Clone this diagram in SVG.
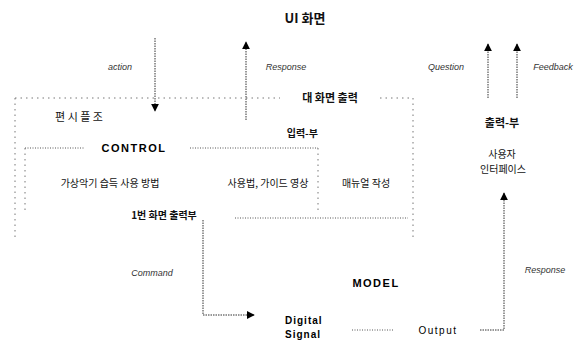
<svg xmlns="http://www.w3.org/2000/svg" width="587" height="350" viewBox="0 0 587 350">
  <style>
    .t { font-family: "Liberation Sans", "Noto Sans CJK KR", sans-serif; fill: #000; }
    .ko { font-family: "Noto Sans CJK KR", "Liberation Sans", sans-serif; fill: #111; }
    .b { font-weight: bold; }
    .lbl { font-family: "Liberation Sans", sans-serif; font-style: italic; font-size: 9px; fill: #333; }
    .box { fill: none; stroke: #777; stroke-width: 1; stroke-dasharray: 1.5 4; }
    .sec { fill: none; stroke: #555; stroke-width: 1; stroke-dasharray: 1 1.5; }
    .edge { fill: none; stroke: #333; stroke-width: 1; stroke-dasharray: 1.5 1; }
  </style>
  <defs>
    <marker id="ah" viewBox="0 0 10 10" refX="9" refY="5" markerWidth="8" markerHeight="8" orient="auto-start-reverse" markerUnits="userSpaceOnUse">
      <path d="M0,0 L10,5 L0,10 Z" fill="#000"/>
    </marker>
  </defs>
  <rect width="587" height="350" fill="#fff"/>

  <g id="user">
    <text class="ko b" x="305" y="23" font-size="13" text-anchor="middle">UI 화면</text>
  </g>

  <g id="view-box">
    <path class="box" d="M15,98 H280 M380,98 H413 M15,98 V237 M413,98 V237"/>
    <text class="ko b" x="330" y="102" font-size="11" text-anchor="middle">대 화면 출력</text>
    <text class="ko" x="79" y="121" font-size="11" text-anchor="middle">편 시 플 조</text>
  </g>

  <g id="control">
    <path class="sec" d="M25,148 H84 M190,148 H318"/>
    <path class="box" d="M25,148 V212 M318,148 V212"/>
    <text class="t b" x="134" y="152" font-size="11" text-anchor="middle" letter-spacing="1.5">CONTROL</text>
    <text class="ko b" x="318" y="137" font-size="10" text-anchor="end">입력-부</text>
    <text class="ko" x="110" y="187" font-size="10" text-anchor="middle">가상악기 습득 사용 방법</text>
    <text class="ko" x="268" y="187" font-size="10" text-anchor="middle">사용법, 가이드 영상</text>
    <text class="ko" x="366" y="187" font-size="10" text-anchor="middle">매뉴얼 작성</text>
  </g>

  <g id="output-section">
    <text class="ko b" x="164" y="219" font-size="10" text-anchor="middle">1번 화면 출력부</text>
    <path class="sec" d="M235,218 H408"/>
  </g>

  <g id="interface">
    <text class="ko b" x="502" y="127" font-size="11" text-anchor="middle">출력-부</text>
    <text class="ko" x="502" y="158" font-size="10" text-anchor="middle">사용자</text>
    <text class="ko" x="503" y="173" font-size="10" text-anchor="middle">인터페이스</text>
  </g>

  <g id="model">
    <text class="t b" x="376" y="287" font-size="11" text-anchor="middle" letter-spacing="1.5">MODEL</text>
  </g>

  <g id="digital-signal">
    <text class="t b" x="285" y="324" font-size="10" letter-spacing="1">Digital</text>
    <text class="t b" x="285" y="338" font-size="10" letter-spacing="1">Signal</text>
  </g>

  <g id="output">
    <text class="t" x="438" y="334" font-size="10" text-anchor="middle" letter-spacing="1.5">Output</text>
  </g>

  <g id="connectors">
    <path class="edge" d="M155,38 V111" marker-end="url(#ah)"/>
    <text class="lbl" x="120" y="70" text-anchor="middle">action</text>
    <path class="edge" d="M246,120 V42" marker-end="url(#ah)"/>
    <text class="lbl" x="286" y="70" text-anchor="middle">Response</text>
    <path class="edge" d="M488,98 V44" marker-end="url(#ah)"/>
    <text class="lbl" x="446" y="70" text-anchor="middle">Question</text>
    <path class="edge" d="M517,98 V44" marker-end="url(#ah)"/>
    <text class="lbl" x="553" y="70" text-anchor="middle">Feedback</text>
    <path class="edge" d="M203,220 V315 H254" marker-end="url(#ah)"/>
    <text class="lbl" x="152" y="276" text-anchor="middle">Command</text>
    <path class="sec" d="M352,330 H393"/>
    <path class="edge" d="M480,330 H504 V193" marker-end="url(#ah)"/>
    <text class="lbl" x="545" y="273" text-anchor="middle">Response</text>
  </g>
</svg>
